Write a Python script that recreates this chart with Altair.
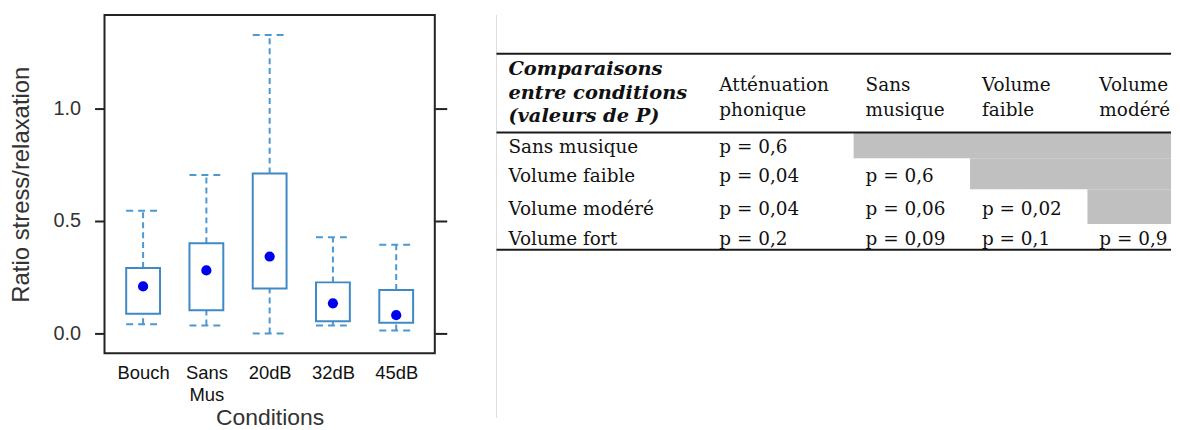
import altair as alt
import pandas as pd

# ---------------- box plot data ----------------
conditions = ["Bouch", "Sans Mus", "20dB", "32dB", "45dB"]
whisker_low = [0.041, 0.035, 0.0, 0.035, 0.013]
q1 = [0.087, 0.103, 0.200, 0.054, 0.047]
q3 = [0.291, 0.401, 0.711, 0.227, 0.193]
whisker_high = [0.546, 0.705, 1.327, 0.428, 0.394]
center = [0.209, 0.280, 0.342, 0.134, 0.081]

y_ticks = [0.0, 0.5, 1.0]

# ---------------- table data ----------------
table_title = ["Comparaisons", "entre conditions", "(valeurs de P)"]
col_headers = [["Atténuation", "phonique"], ["Sans", "musique"],
               ["Volume", "faible"], ["Volume", "modéré"]]
row_labels = ["Sans musique", "Volume faible", "Volume modéré", "Volume fort"]
p_values = [["0,6"], ["0,04", "0,6"], ["0,04", "0,06", "0,02"],
            ["0,2", "0,09", "0,1", "0,9"]]

box_df = pd.DataFrame({"cond": conditions, "wlo": whisker_low, "q1": q1,
                       "q3": q3, "whi": whisker_high, "mid": center})

BOX = "#3f8ac6"
WHISK = "#4b98d2"
SANS = "Liberation Sans"

xenc = alt.X("cond:N", sort=conditions,
             scale=alt.Scale(type="point", padding=0.61),
             axis=alt.Axis(title="Conditions", labelExpr="split(datum.label, ' ')",
                           labelAngle=0, ticks=False, domain=False,
                           labelFont=SANS, labelFontSize=18.5, labelColor="#111",
                           labelBaseline="middle", labelPadding=19, labelLineHeight=22,
                           titleFont=SANS, titleFontSize=23, titleFontWeight="normal",
                           titleColor="#333", titlePadding=3))
yscale = alt.Scale(domain=[-0.0885, 1.416], nice=False, zero=False)
yaxis_left = alt.Axis(title="Ratio stress/relaxation", values=y_ticks, format=".1f",
                      grid=False, domain=False, tickSize=10, tickWidth=2, tickColor="#222",
                      labelFont=SANS, labelFontSize=20, labelColor="#333", labelPadding=14,
                      titleFont=SANS, titleFontSize=24, titleFontWeight="normal",
                      titleColor="#333", titlePadding=20)
yaxis_right = alt.Axis(orient="right", title=None, values=y_ticks, labels=False,
                       grid=False, domain=False, tickSize=12, tickWidth=2, tickColor="#222")

base = alt.Chart(box_df)

whisk_low = base.mark_rule(color=WHISK, strokeWidth=2, strokeDash=[6, 4]).encode(
    x=xenc, y=alt.Y("wlo:Q", scale=yscale, axis=yaxis_left), y2="q1:Q")
whisk_high = base.mark_rule(color=WHISK, strokeWidth=2, strokeDash=[6, 4]).encode(
    x=xenc, y=alt.Y("q3:Q", scale=yscale, axis=yaxis_left), y2="whi:Q")
cap_low = base.mark_rule(color=WHISK, strokeWidth=2, strokeDash=[7, 5],
                         xOffset=-17, x2Offset=17).encode(
    x=xenc, x2="cond:N", y=alt.Y("wlo:Q", scale=yscale, axis=yaxis_left))
cap_high = base.mark_rule(color=WHISK, strokeWidth=2, strokeDash=[7, 5],
                          xOffset=-17, x2Offset=17).encode(
    x=xenc, x2="cond:N", y=alt.Y("whi:Q", scale=yscale, axis=yaxis_left))
boxes = base.mark_bar(size=34, fill="white", stroke=BOX, strokeWidth=2).encode(
    x=xenc, y=alt.Y("q1:Q", scale=yscale, axis=yaxis_left), y2="q3:Q")
dots = base.mark_point(filled=True, shape="circle", size=105, color="#0000ee",
                       opacity=1).encode(
    x=xenc, y=alt.Y("mid:Q", scale=yscale, axis=yaxis_right))

boxgroup = alt.layer(whisk_low, whisk_high, cap_low, cap_high, boxes)
left = alt.layer(boxgroup, dots).resolve_axis(y="independent").properties(
    width=332, height=340, view=alt.ViewBackground(stroke="#222", strokeWidth=2))

# ---------------- table ----------------
cells = []
for i, r in enumerate(row_labels):
    cells.append({"row": i + 1, "col": 0, "text": r})
    for j, v in enumerate(p_values[i]):
        cells.append({"row": i + 1, "col": j + 1, "text": "p = " + v})
cell_df = pd.DataFrame(cells)

hdr_df = pd.DataFrame({"col": list(range(1, len(col_headers) + 1)),
                       "lines": col_headers})
title_df = pd.DataFrame({"col": [0], "lines": [table_title]})

grey_rows = [{"row": i + 1, "c0": i + 2, "c1": len(col_headers) + 1}
             for i in range(len(row_labels) - 1)]
grey_df = pd.DataFrame(grey_rows)

line_df = pd.DataFrame({"row": [0, 1, len(row_labels) + 1], "c0": 0,
                        "c1": len(col_headers) + 1})
edge_df = pd.DataFrame({"col": [0]})

tx = alt.Scale(domain=[0, 1, 2, 3, 4, 5], range=[1, 213, 360, 477, 595, 679])
ty = alt.Scale(domain=[0, 1, 2, 3, 4, 5], range=[39, 118, 144, 175, 210, 236])
SERIF = "DejaVu Serif"
FS = 18.5

edge = alt.Chart(edge_df).mark_rule(color="#dcdcdc", strokeWidth=1).encode(
    x=alt.X("col:Q", scale=tx, axis=None), y=alt.value(0), y2=alt.value(405))
grey = alt.Chart(grey_df).transform_calculate(r2="datum.row + 1").mark_rect(
    color="#c0c0c0").encode(
    x=alt.X("c0:Q", scale=tx, axis=None), x2="c1:Q",
    y=alt.Y("row:Q", scale=ty, axis=None), y2="r2:Q")
lines = alt.Chart(line_df).mark_rule(color="#1a1a1a", strokeWidth=2).encode(
    x=alt.X("c0:Q", scale=tx, axis=None), x2="c1:Q",
    y=alt.Y("row:Q", scale=ty, axis=None))
body = alt.Chart(cell_df).transform_calculate(ym="datum.row + 0.5").mark_text(
    align="left", baseline="middle", dx=12, dy=2, font=SERIF, fontSize=FS,
    color="#111").encode(
    x=alt.X("col:Q", scale=tx, axis=None), y=alt.Y("ym:Q", scale=ty, axis=None),
    text="text:N")
hdr = alt.Chart(hdr_df).transform_calculate(ym="0.5").mark_text(
    align="left", baseline="middle", dx=12, dy=-8.5, font=SERIF, fontSize=FS,
    lineHeight=25, color="#111").encode(
    x=alt.X("col:Q", scale=tx, axis=None), y=alt.Y("ym:Q", scale=ty, axis=None),
    text="lines")
ttl = alt.Chart(title_df).transform_calculate(ym="0.5").mark_text(
    align="left", baseline="middle", dx=12, dy=-24.5, font=SERIF, fontSize=19.5,
    fontWeight="bold", fontStyle="italic", lineHeight=24, color="#111").encode(
    x=alt.X("col:Q", scale=tx, axis=None), y=alt.Y("ym:Q", scale=ty, axis=None),
    text="lines")

right = alt.layer(edge, grey, lines, body, hdr, ttl).properties(
    width=679, height=340, view=alt.ViewBackground(strokeWidth=0))

chart = alt.hconcat(left, right, spacing=47).properties(
    padding={"left": 0, "top": 5, "right": 0, "bottom": 0}
).configure_view(strokeWidth=0).configure(background="white")

chart.save("out.html", embed_options={"renderer": "svg", "actions": False})
